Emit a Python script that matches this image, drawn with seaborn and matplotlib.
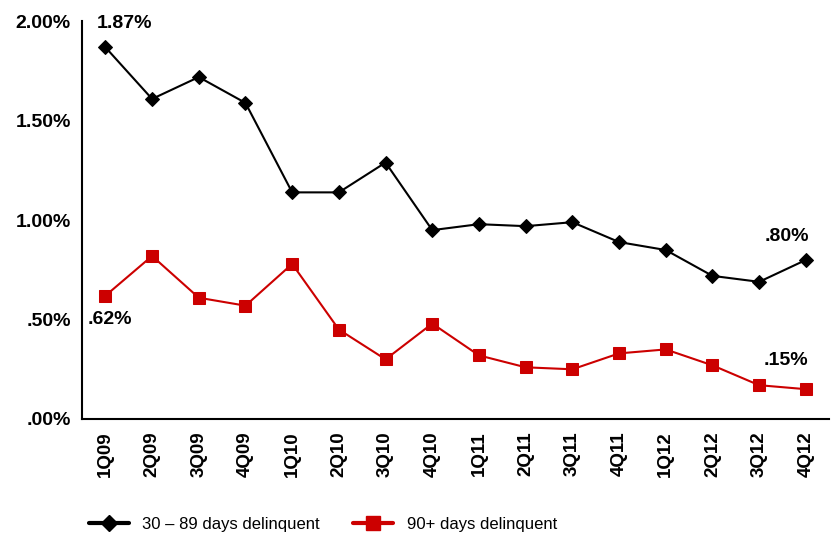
import numpy as np
import pandas as pd
import seaborn as sns
import matplotlib.pyplot as plt
from matplotlib.lines import Line2D

# quarters and delinquency rates (%)
quarters = ['1Q09', '2Q09', '3Q09', '4Q09', '1Q10', '2Q10', '3Q10', '4Q10',
            '1Q11', '2Q11', '3Q11', '4Q11', '1Q12', '2Q12', '3Q12', '4Q12']
late_30_89 = [1.87, 1.61, 1.72, 1.59, 1.14, 1.14, 1.29, 0.95,
              0.98, 0.97, 0.99, 0.89, 0.85, 0.72, 0.69, 0.80]
late_90 = [0.62, 0.82, 0.61, 0.57, 0.78, 0.45, 0.30, 0.48,
           0.32, 0.26, 0.25, 0.33, 0.35, 0.27, 0.17, 0.15]
y_ticks = [0.0, 0.5, 1.0, 1.5, 2.0]
y_labels = ['.00%', '.50%', '1.00%', '1.50%', '2.00%']

df = pd.DataFrame({'pos': np.arange(len(quarters)), 'q': quarters,
                   'a': late_30_89, 'b': late_90})

sns.set_style('white')
plt.rcParams['font.family'] = ['Liberation Sans', 'DejaVu Sans']
plt.rcParams['text.color'] = 'black'
plt.rcParams['xtick.color'] = 'black'
plt.rcParams['ytick.color'] = 'black'

fig = plt.figure(figsize=(8.32, 5.38), dpi=100)
ax = fig.add_axes([0.0986, 0.2212, 0.898, 0.739])

black = '#000000'
red = '#CC0000'
sns.lineplot(data=df, x='pos', y='a', ax=ax, color=black, lw=1.5,
             marker='D', markersize=7, markeredgecolor=black)
sns.lineplot(data=df, x='pos', y='b', ax=ax, color=red, lw=1.5,
             marker='s', markersize=8, markeredgecolor=red)

ax.set_xlim(-0.5, len(quarters) - 0.5)
ax.set_ylim(0, 2.0)
ax.set_xlabel('')
ax.set_ylabel('')

ax.set_yticks(y_ticks)
ax.set_yticklabels(y_labels, fontsize=14, fontweight='bold')
ax.set_xticks(df['pos'])
ax.set_xticklabels(quarters, rotation=90, fontsize=13.5, fontweight='bold')
ax.set_xticks(np.arange(-0.5, len(quarters)), minor=True)
ax.tick_params(axis='x', which='major', length=0, pad=9)
ax.tick_params(axis='x', which='minor', length=5, width=1.5, direction='out', color=black)
ax.tick_params(axis='y', length=6, width=1.5, direction='out', color=black, pad=2)

sns.despine(ax=ax)
for s in ['left', 'bottom']:
    ax.spines[s].set_linewidth(1.5)
    ax.spines[s].set_color(black)

# value callouts
lab = dict(fontsize=14, fontweight='bold', ha='center', va='center',
           textcoords='offset points', color=black)
ax.annotate('1.87%', xy=(0, late_30_89[0]), xytext=(14, 17), **lab)
ax.annotate('.62%', xy=(0, late_90[0]), xytext=(3, -17), **lab)
ax.annotate('.80%', xy=(15, late_30_89[-1]), xytext=(-14, 17), **lab)
ax.annotate('.15%', xy=(15, late_90[-1]), xytext=(-14, 21), **lab)

handles = [Line2D([], [], color=black, lw=3, marker='D', markersize=8),
           Line2D([], [], color=red, lw=3, marker='s', markersize=10)]
fig.legend(handles, ['30 \u2013 89 days delinquent', '90+ days delinquent'],
           loc='center', bbox_to_anchor=(0.388, 0.025), ncol=2, frameon=False,
           handlelength=2.4, columnspacing=2.0, handletextpad=0.8,
           prop={'family': ['Liberation Sans', 'DejaVu Sans'], 'size': 12})

fig.savefig('out.png', dpi=100)
